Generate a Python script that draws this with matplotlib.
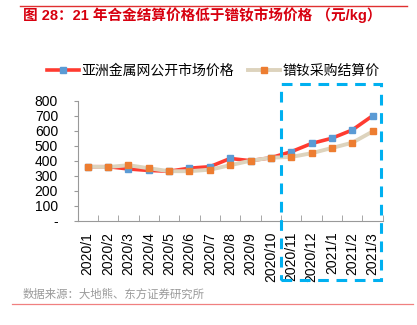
import numpy as np
import matplotlib
matplotlib.use('Agg')
import matplotlib.pyplot as plt
from matplotlib.patches import Rectangle
from matplotlib.lines import Line2D

plt.rcParams['font.family'] = ['Liberation Sans', 'Noto Sans CJK SC', 'DejaVu Sans']

months = ['2020/1', '2020/2', '2020/3', '2020/4', '2020/5', '2020/6', '2020/7',
          '2020/8', '2020/9', '2020/10', '2020/11', '2020/12', '2021/1',
          '2021/2', '2021/3']
market = [360, 360, 345, 335, 330, 350, 360, 415, 400, 420, 460, 515, 550, 605, 700]
settle = [360, 358, 370, 350, 330, 330, 340, 370, 400, 420, 425, 450, 485, 520, 595]
yticks = [0, 100, 200, 300, 400, 500, 600, 700, 800]
yticklabels = ['-', '100', '200', '300', '400', '500', '600', '700', '800']

title = '图 28：21 年合金结算价格低于镨钕市场价格 （元/kg）'
source = '数据来源：大地熊、东方证券研究所'
name_market = '亚洲金属网公开市场价格'
name_settle = '镨钕采购结算价'

fig = plt.figure(figsize=(4.17, 3.25), dpi=100)
ax = fig.add_axes([0.186, 0.321, 0.732, 0.369])

x = np.arange(len(months))
ax.plot(x, market, color='#FF3B30', lw=2.6, zorder=3)
ax.plot(x, settle, color='#DDD3BD', lw=2.8, zorder=4)
ax.plot(x, market, ls='none', marker='s', ms=4.5, color='#5B9BD5', zorder=5)
ax.plot(x, settle, ls='none', marker='s', ms=3.8, color='#ED7D31', zorder=6)

ax.set_xlim(-0.5, len(months) - 0.5)
ax.set_ylim(0, 800)
ax.set_yticks(yticks)
ax.set_yticklabels(yticklabels, fontsize=10)
ax.set_xticks(x)
ax.set_xticklabels(months, rotation=90, fontsize=10)
ax.set_xticks(np.arange(len(months) + 1) - 0.5, minor=True)
ax.tick_params(axis='x', which='major', length=0, pad=8)
ax.tick_params(axis='x', which='minor', direction='in', length=4, color='#999999')
ax.tick_params(axis='y', length=3, color='#999999', pad=11)
for s in ['top', 'right']:
    ax.spines[s].set_visible(False)
ax.spines['left'].set_color('#999999')
ax.spines['bottom'].set_color('#999999')

rect = Rectangle((9.5, -395), 4.9, 1305, fill=False, edgecolor='#00B0F0',
                 lw=2.2, ls=(0, (3.5, 2.5)), clip_on=False, zorder=10)
ax.add_patch(rect)

h1 = Line2D([], [], color='#FF3B30', lw=2.6, marker='s', ms=4.5,
            markerfacecolor='#5B9BD5', markeredgecolor='#5B9BD5')
h2 = Line2D([], [], color='#DDD3BD', lw=2.8, marker='s', ms=3.8,
            markerfacecolor='#ED7D31', markeredgecolor='#ED7D31')
fig.legend([h1, h2], [name_market, name_settle], loc='center',
           bbox_to_anchor=(0.512, 0.782), ncol=2, frameon=False,
           prop={'family': 'Noto Sans CJK SC', 'size': 10},
           handlelength=2.3, handletextpad=0.2, columnspacing=1.0)

fig.text(0.055, 0.955, title, fontsize=10.5, fontweight='bold', color='#D7000F',
         va='center', ha='left', family=['Liberation Sans', 'Noto Sans CJK SC'])
fig.text(0.053, 0.095, source, fontsize=8.2, color='#9a9a9a', va='center',
         ha='left', family='Noto Sans CJK SC')
fig.add_artist(Line2D([0.048, 0.976], [0.983, 0.983], color='#E03030', lw=1.0))
fig.add_artist(Line2D([0.029, 0.990], [0.065, 0.065], color='#F08080', lw=0.9))

fig.savefig('out.png', dpi=100)
